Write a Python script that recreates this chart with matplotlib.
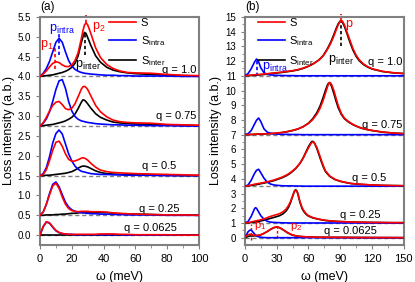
import numpy as np
import matplotlib
matplotlib.use('Agg')
import matplotlib.pyplot as plt

plt.rcParams['font.family'] = ['Liberation Sans', 'DejaVu Sans']
plt.rcParams['mathtext.default'] = 'regular'

# ---- panel (a) data: omega grid and curves (height above each baseline) ----
wa = [0, 2, 4, 6, 8, 10, 12, 14, 16, 18, 20, 22, 24, 26, 27, 28, 29, 30, 32, 35, 38, 42, 46, 50, 55, 60, 70, 80, 90, 100]
qa_labels = ['q = 1.0', 'q = 0.75', 'q = 0.5', 'q = 0.25', 'q = 0.0625']
qa_offsets = [4.0, 2.75, 1.5, 0.5, 0.0]

sa_1 = [0, 0.06, 0.14, 0.24, 0.33, 0.37, 0.35, 0.29, 0.25, 0.25, 0.29, 0.40, 0.60, 0.95, 1.15, 1.30, 1.35, 1.30, 1.08, 0.72, 0.48, 0.30, 0.20, 0.14, 0.10, 0.09, 0.08, 0.05, 0.03, 0.02]
intra_a_1 = [0, 0.08, 0.20, 0.38, 0.62, 0.86, 0.96, 0.86, 0.62, 0.40, 0.26, 0.18, 0.13, 0.10, 0.09, 0.08, 0.075, 0.07, 0.06, 0.05, 0.04, 0.03, 0.03, 0.02, 0.02, 0.01, 0.01, 0.01, 0, 0]
inter_a_1 = [0, 0.01, 0.02, 0.03, 0.04, 0.06, 0.08, 0.10, 0.13, 0.17, 0.23, 0.33, 0.52, 0.85, 1.00, 1.11, 1.08, 0.98, 0.78, 0.52, 0.36, 0.23, 0.16, 0.12, 0.09, 0.07, 0.05, 0.03, 0.02, 0.01]

sa_075 = [0, 0.08, 0.22, 0.38, 0.52, 0.60, 0.62, 0.54, 0.44, 0.41, 0.45, 0.56, 0.74, 0.93, 0.99, 1.00, 0.97, 0.92, 0.76, 0.52, 0.36, 0.23, 0.15, 0.11, 0.09, 0.08, 0.07, 0.04, 0.03, 0.02]
intra_a_075 = [0, 0.07, 0.18, 0.36, 0.62, 0.92, 1.14, 1.17, 0.95, 0.62, 0.38, 0.24, 0.17, 0.13, 0.12, 0.11, 0.10, 0.09, 0.08, 0.06, 0.05, 0.04, 0.03, 0.03, 0.02, 0.02, 0.01, 0.01, 0, 0]
inter_a_075 = [0, 0.01, 0.02, 0.03, 0.04, 0.06, 0.08, 0.10, 0.13, 0.17, 0.22, 0.30, 0.44, 0.60, 0.66, 0.65, 0.61, 0.56, 0.45, 0.31, 0.22, 0.15, 0.10, 0.08, 0.06, 0.05, 0.04, 0.03, 0.02, 0.01]

sa_05 = [0, 0.03, 0.15, 0.38, 0.64, 0.84, 0.87, 0.74, 0.55, 0.41, 0.36, 0.37, 0.40, 0.44, 0.45, 0.44, 0.42, 0.39, 0.31, 0.21, 0.14, 0.10, 0.08, 0.07, 0.06, 0.05, 0.04, 0.03, 0.02, 0.01]
intra_a_05 = [0, 0.05, 0.20, 0.48, 0.82, 1.06, 1.15, 1.05, 0.80, 0.55, 0.37, 0.24, 0.16, 0.11, 0.10, 0.09, 0.08, 0.07, 0.05, 0.04, 0.03, 0.03, 0.02, 0.02, 0.01, 0.01, 0.01, 0, 0, 0]
inter_a_05 = [0, 0, 0.01, 0.01, 0.02, 0.03, 0.04, 0.05, 0.06, 0.08, 0.10, 0.14, 0.19, 0.23, 0.24, 0.24, 0.23, 0.22, 0.18, 0.12, 0.08, 0.05, 0.04, 0.03, 0.02, 0.02, 0.01, 0.01, 0, 0]

sa_025 = [0, 0.08, 0.28, 0.52, 0.74, 0.81, 0.68, 0.46, 0.28, 0.17, 0.12, 0.10, 0.09, 0.10, 0.10, 0.10, 0.10, 0.10, 0.09, 0.09, 0.09, 0.08, 0.06, 0.05, 0.04, 0.03, 0.02, 0.01, 0.01, 0]
intra_a_025 = [0, 0.08, 0.28, 0.55, 0.78, 0.84, 0.72, 0.52, 0.33, 0.21, 0.14, 0.10, 0.08, 0.07, 0.06, 0.06, 0.05, 0.05, 0.04, 0.04, 0.03, 0.03, 0.02, 0.02, 0.01, 0.01, 0.01, 0, 0, 0]
inter_a_025 = [0, 0, 0.01, 0.01, 0.01, 0.02, 0.02, 0.03, 0.03, 0.04, 0.05, 0.05, 0.06, 0.07, 0.07, 0.08, 0.08, 0.08, 0.08, 0.07, 0.07, 0.07, 0.05, 0.04, 0.03, 0.03, 0.02, 0.01, 0.01, 0]

sa_00625 = [0, 0.22, 0.34, 0.31, 0.21, 0.12, 0.07, 0.04, 0.03, 0.02, 0.02, 0.02, 0.02, 0.02, 0.02, 0.02, 0.02, 0.02, 0.02, 0.02, 0.03, 0.03, 0.03, 0.02, 0.02, 0.01, 0.01, 0.01, 0, 0]
intra_a_00625 = [0, 0.21, 0.33, 0.30, 0.20, 0.11, 0.06, 0.04, 0.03, 0.02, 0.02, 0.01, 0.01, 0.01, 0.01, 0.01, 0.01, 0.01, 0.01, 0.01, 0.01, 0.01, 0.01, 0.01, 0, 0, 0, 0, 0, 0]
inter_a_00625 = [0] * 30

# ---- panel (b) data: one omega grid per q ----
qb_labels = ['q = 1.0', 'q = 0.75', 'q = 0.5', 'q = 0.25', 'q = 0.0625']
qb_offsets = [11.0, 7.0, 3.5, 1.0, 0.0]

wb_1 = [0, 3, 6, 9, 11, 13, 15, 18, 21, 24, 27, 30, 35, 40, 45, 50, 55, 60, 65, 70, 74, 78, 81, 84, 86, 88, 90, 91, 92, 94, 96, 98, 100, 102, 105, 108, 112, 116, 120, 130, 140, 150]
sb_1 = [0, 0.03, 0.05, 0.07, 0.08, 0.09, 0.10, 0.12, 0.14, 0.17, 0.19, 0.21, 0.25, 0.30, 0.35, 0.42, 0.52, 0.66, 0.84, 1.08, 1.36, 1.80, 2.20, 2.70, 3.08, 3.45, 3.70, 3.75, 3.72, 3.45, 3.05, 2.65, 2.25, 1.85, 1.40, 1.08, 0.80, 0.62, 0.48, 0.30, 0.21, 0.16]
intra_b_1 = [0, 0.15, 0.48, 0.92, 1.14, 0.95, 0.55, 0.22, 0.10, 0.06, 0.04, 0.03, 0.02, 0.01, 0.01, 0, 0, 0, 0, 0, 0, 0, 0, 0, 0, 0, 0, 0, 0, 0, 0, 0, 0, 0, 0, 0, 0, 0, 0, 0, 0, 0]
inter_b_1 = [0, 0.01, 0.02, 0.04, 0.05, 0.06, 0.07, 0.09, 0.11, 0.14, 0.16, 0.19, 0.23, 0.28, 0.33, 0.40, 0.50, 0.64, 0.83, 1.08, 1.38, 1.85, 2.28, 2.80, 3.18, 3.52, 3.72, 3.72, 3.65, 3.35, 2.95, 2.52, 2.12, 1.75, 1.32, 1.02, 0.76, 0.59, 0.46, 0.29, 0.20, 0.15]

wb_075 = [0, 3, 6, 9, 11, 13, 15, 18, 21, 24, 27, 30, 35, 40, 45, 50, 55, 60, 64, 68, 71, 74, 76, 78, 79, 80, 81, 82, 84, 86, 88, 91, 94, 98, 102, 106, 110, 115, 120, 130, 140, 150]
sb_075 = [0, 0.01, 0.02, 0.03, 0.04, 0.04, 0.05, 0.05, 0.06, 0.07, 0.09, 0.11, 0.15, 0.21, 0.29, 0.39, 0.54, 0.76, 1.02, 1.40, 1.80, 2.35, 2.80, 3.25, 3.45, 3.55, 3.50, 3.38, 3.00, 2.50, 2.00, 1.45, 1.12, 0.88, 0.70, 0.56, 0.45, 0.36, 0.29, 0.18, 0.11, 0.07]
intra_b_075 = [0, 0.06, 0.28, 0.70, 0.98, 1.13, 0.90, 0.40, 0.18, 0.10, 0.06, 0.04, 0.02, 0.02, 0.01, 0.01, 0, 0, 0, 0, 0, 0, 0, 0, 0, 0, 0, 0, 0, 0, 0, 0, 0, 0, 0, 0, 0, 0, 0, 0, 0, 0]
inter_b_075 = [0, 0.01, 0.01, 0.02, 0.03, 0.03, 0.04, 0.05, 0.06, 0.07, 0.08, 0.10, 0.14, 0.20, 0.28, 0.38, 0.54, 0.78, 1.08, 1.50, 1.95, 2.55, 3.00, 3.38, 3.50, 3.52, 3.42, 3.25, 2.80, 2.30, 1.85, 1.38, 1.08, 0.85, 0.68, 0.55, 0.44, 0.35, 0.28, 0.17, 0.11, 0.07]

wb_05 = [0, 3, 6, 9, 11, 13, 15, 18, 21, 24, 27, 30, 35, 40, 44, 48, 52, 55, 58, 60, 62, 63, 64, 65, 66, 68, 70, 72, 74, 76, 80, 85, 90, 95, 100, 106, 112, 120, 130, 140, 150]
sb_05 = [0, 0.03, 0.08, 0.13, 0.16, 0.18, 0.21, 0.25, 0.30, 0.35, 0.41, 0.48, 0.61, 0.78, 0.98, 1.22, 1.55, 1.90, 2.32, 2.60, 2.85, 2.95, 3.00, 2.98, 2.90, 2.62, 2.22, 1.80, 1.40, 1.05, 0.70, 0.47, 0.34, 0.26, 0.19, 0.15, 0.12, 0.08, 0.06, 0.04, 0.03]
intra_b_05 = [0, 0.08, 0.40, 0.85, 1.08, 1.15, 0.92, 0.55, 0.28, 0.15, 0.09, 0.06, 0.03, 0.02, 0.02, 0.01, 0.01, 0, 0, 0, 0, 0, 0, 0, 0, 0, 0, 0, 0, 0, 0, 0, 0, 0, 0, 0, 0, 0, 0, 0, 0]
inter_b_05 = [0, 0.02, 0.05, 0.09, 0.11, 0.13, 0.17, 0.21, 0.26, 0.31, 0.37, 0.44, 0.57, 0.74, 0.94, 1.20, 1.55, 1.92, 2.38, 2.68, 2.92, 3.02, 3.05, 3.00, 2.88, 2.55, 2.12, 1.70, 1.32, 1.00, 0.67, 0.45, 0.33, 0.25, 0.18, 0.14, 0.11, 0.08, 0.05, 0.04, 0.03]

wb_025 = [0, 3, 6, 9, 10, 11, 13, 15, 18, 21, 24, 27, 30, 33, 36, 39, 41, 43, 45, 46, 47, 48, 49, 50, 52, 54, 56, 58, 60, 64, 68, 72, 76, 80, 88, 96, 104, 115, 130, 140, 150]
sb_025 = [0, 0.03, 0.07, 0.12, 0.14, 0.15, 0.18, 0.22, 0.28, 0.36, 0.44, 0.51, 0.57, 0.64, 0.76, 0.95, 1.16, 1.45, 1.82, 2.00, 2.16, 2.22, 2.18, 2.02, 1.45, 1.05, 0.80, 0.62, 0.50, 0.37, 0.29, 0.23, 0.18, 0.15, 0.10, 0.08, 0.06, 0.04, 0.03, 0.02, 0.02]
intra_b_025 = [0, 0.10, 0.45, 0.95, 1.04, 1.00, 0.75, 0.50, 0.26, 0.12, 0.06, 0.04, 0.03, 0.02, 0.01, 0.01, 0, 0, 0, 0, 0, 0, 0, 0, 0, 0, 0, 0, 0, 0, 0, 0, 0, 0, 0, 0, 0, 0, 0, 0, 0]
inter_b_025 = [0, 0.01, 0.03, 0.06, 0.07, 0.08, 0.10, 0.14, 0.19, 0.25, 0.31, 0.37, 0.43, 0.50, 0.62, 0.82, 1.04, 1.36, 1.80, 2.02, 2.20, 2.26, 2.18, 1.98, 1.40, 0.98, 0.74, 0.58, 0.47, 0.35, 0.28, 0.22, 0.17, 0.14, 0.10, 0.08, 0.06, 0.04, 0.03, 0.02, 0.02]

wb_00625 = [0, 1.5, 3, 4.5, 5.5, 6.5, 8, 10, 12, 15, 18, 21, 24, 27, 29, 30, 31, 33, 36, 40, 44, 48, 52, 56, 60, 68, 76, 90, 110, 130, 150]
sb_00625 = [0, 0.12, 0.20, 0.23, 0.23, 0.21, 0.18, 0.16, 0.16, 0.20, 0.30, 0.42, 0.56, 0.68, 0.72, 0.73, 0.72, 0.68, 0.55, 0.36, 0.21, 0.13, 0.09, 0.07, 0.05, 0.04, 0.03, 0.02, 0.01, 0.01, 0]
intra_b_00625 = [0, 0.18, 0.40, 0.50, 0.52, 0.48, 0.35, 0.18, 0.08, 0.03, 0.01, 0, 0, 0, 0, 0, 0, 0, 0, 0, 0, 0, 0, 0, 0, 0, 0, 0, 0, 0, 0]
inter_b_00625 = [0, 0.04, 0.08, 0.11, 0.12, 0.12, 0.12, 0.13, 0.14, 0.19, 0.29, 0.41, 0.55, 0.67, 0.71, 0.72, 0.71, 0.67, 0.54, 0.35, 0.20, 0.12, 0.08, 0.06, 0.05, 0.03, 0.02, 0.02, 0.01, 0, 0]

W_a = [wa] * 5
S_a = [sa_1, sa_075, sa_05, sa_025, sa_00625]
intra_a = [intra_a_1, intra_a_075, intra_a_05, intra_a_025, intra_a_00625]
inter_a = [inter_a_1, inter_a_075, inter_a_05, inter_a_025, inter_a_00625]
W_b = [wb_1, wb_075, wb_05, wb_025, wb_00625]
S_b = [sb_1, sb_075, sb_05, sb_025, sb_00625]
intra_b = [intra_b_1, intra_b_075, intra_b_05, intra_b_025, intra_b_00625]
inter_b = [inter_b_1, inter_b_075, inter_b_05, inter_b_025, inter_b_00625]

# q label positions (right edge in omega, y)
qa_pos = [(98.5, 4.17), (98.5, 3.0), (86, 1.75), (88, 0.67), (86, 0.18)]
qb_pos = [(149, 11.95), (149, 7.66), (133, 4.06), (128, 1.55), (125, 0.45)]

RED = '#ff0000'
BLUE = '#0000ff'
GRAY = '#808080'
lw = 1.2

fig = plt.figure(figsize=(4.15, 2.82), dpi=100)
axa = fig.add_axes([0.0964, 0.131, 0.383, 0.809])
axb = fig.add_axes([0.590, 0.131, 0.383, 0.809])


def draw_panel(ax, W, offs, S, intra, inter, qlab, qpos, xmax):
    for i in range(len(offs)):
        o = offs[i]
        w = np.array(W[i])
        ax.axhline(o, color=GRAY, lw=1.0, ls=(0, (3, 2)), zorder=1)
        ax.plot(w, np.array(inter[i]) + o, color='k', lw=lw, zorder=2)
        ax.plot(w, np.array(intra[i]) + o, color=BLUE, lw=lw, zorder=3)
        ax.plot(w, np.array(S[i]) + o, color=RED, lw=lw, zorder=4)
        ax.text(qpos[i][0], qpos[i][1], qlab[i], ha='right', va='center', fontsize=8)
    for sp in ax.spines.values():
        sp.set_color(GRAY)
        sp.set_linewidth(1.5)
    ax.tick_params(direction='out', length=3, width=0.8, color=GRAY, labelsize=7)
    ax.tick_params(axis='x', labelsize=8)
    ax.tick_params(which='minor', direction='out', length=2, width=0.6, color=GRAY)
    ax.set_xlim(0, xmax)
    ax.set_xlabel('ω (meV)', fontsize=9, labelpad=5)
    ax.set_ylabel('Loss intensity (a.b.)', fontsize=9, labelpad=2)


draw_panel(axa, W_a, qa_offsets, S_a, intra_a, inter_a, qa_labels, qa_pos, 100)
draw_panel(axb, W_b, qb_offsets, S_b, intra_b, inter_b, qb_labels, qb_pos, 150)

axa.set_ylim(-0.25, 5.5)
axa.set_yticks(np.arange(0, 5.51, 0.5))
axa.set_yticklabels(['%.1f' % v for v in np.arange(0, 5.51, 0.5)])
axa.set_xticks([0, 20, 40, 60, 80, 100])
axa.set_xticks([10, 30, 50, 70, 90], minor=True)

axb.set_ylim(-0.5, 15)
axb.set_yticks(range(0, 16))
axb.set_yticks(np.arange(0.5, 15, 1), minor=True)
axb.set_xticks([0, 30, 60, 90, 120, 150])
axb.set_xticks([15, 45, 75, 105, 135], minor=True)

# peak markers panel (a)
axa.plot([9.4, 9.4], [4.19, 4.76], color=RED, lw=1.2, ls=(0, (2, 1.5)))
axa.plot([11.8, 11.8], [4.55, 5.1], color=BLUE, lw=1.2, ls=(0, (2, 1.5)))
axa.plot([29, 29], [5.35, 5.55], color=RED, lw=1.2, ls=(0, (2, 1.5)), clip_on=False)
axa.plot([28, 28], [4.55, 5.11], color='k', lw=1.2, ls=(0, (2, 1.5)))
axa.text(4, 4.8, 'p$_1$', color=RED, fontsize=9, ha='center', va='center')
axa.text(14, 5.2, 'p$_{intra}$', color=BLUE, fontsize=9, ha='center', va='center')
axa.text(37, 5.25, 'p$_2$', color=RED, fontsize=9, ha='center', va='center')
axa.text(30, 4.3, 'p$_{inter}$', color='k', fontsize=9, ha='center', va='center')

# peak markers panel (b)
axb.plot([11, 11], [11.0, 12.1], color=BLUE, lw=1.2, ls=(0, (2, 1.5)))
axb.plot([91, 91], [14.75, 15.2], color=RED, lw=1.2, ls=(0, (2, 1.5)), clip_on=False)
axb.plot([91, 91], [13.0, 14.7], color='k', lw=1.2, ls=(0, (2, 1.5)))
axb.plot([5.5, 5.5], [-0.15, 0.95], color=RED, lw=1.0, ls=(0, (2, 1.5)))
axb.plot([30, 30], [0.0, 0.95], color=RED, lw=1.0, ls=(0, (2, 1.5)))
axb.text(95, 14.55, 'p', color=RED, fontsize=9, ha='left', va='center')
axb.text(91, 12.1, 'p$_{inter}$', color='k', fontsize=9, ha='center', va='center')
axb.text(16, 11.6, 'p$_{intra}$', color=BLUE, fontsize=9, ha='left', va='center')
axb.text(9, 0.8, 'p$_1$', color=RED, fontsize=8, ha='left', va='center')
axb.text(43, 0.75, 'p$_2$', color=RED, fontsize=8, ha='left', va='center')

# legends
for ax, x0 in [(axa, 0.43), (axb, 0.075)]:
    hs = [plt.Line2D([], [], color=RED, lw=lw),
          plt.Line2D([], [], color=BLUE, lw=lw),
          plt.Line2D([], [], color='k', lw=lw)]
    ax.legend(hs, ['S', 'S$_{intra}$', 'S$_{inter}$'], loc='upper left',
              bbox_to_anchor=(x0, 1.0), frameon=False, fontsize=8,
              borderpad=0, borderaxespad=0.1, handlelength=2.4,
              handletextpad=0.4, labelspacing=0.55)

fig.text(0.097, 0.995, '(a)', fontsize=8.5, ha='left', va='top')
fig.text(0.591, 0.995, '(b)', fontsize=8.5, ha='left', va='top')

fig.savefig('out.png', dpi=100)
